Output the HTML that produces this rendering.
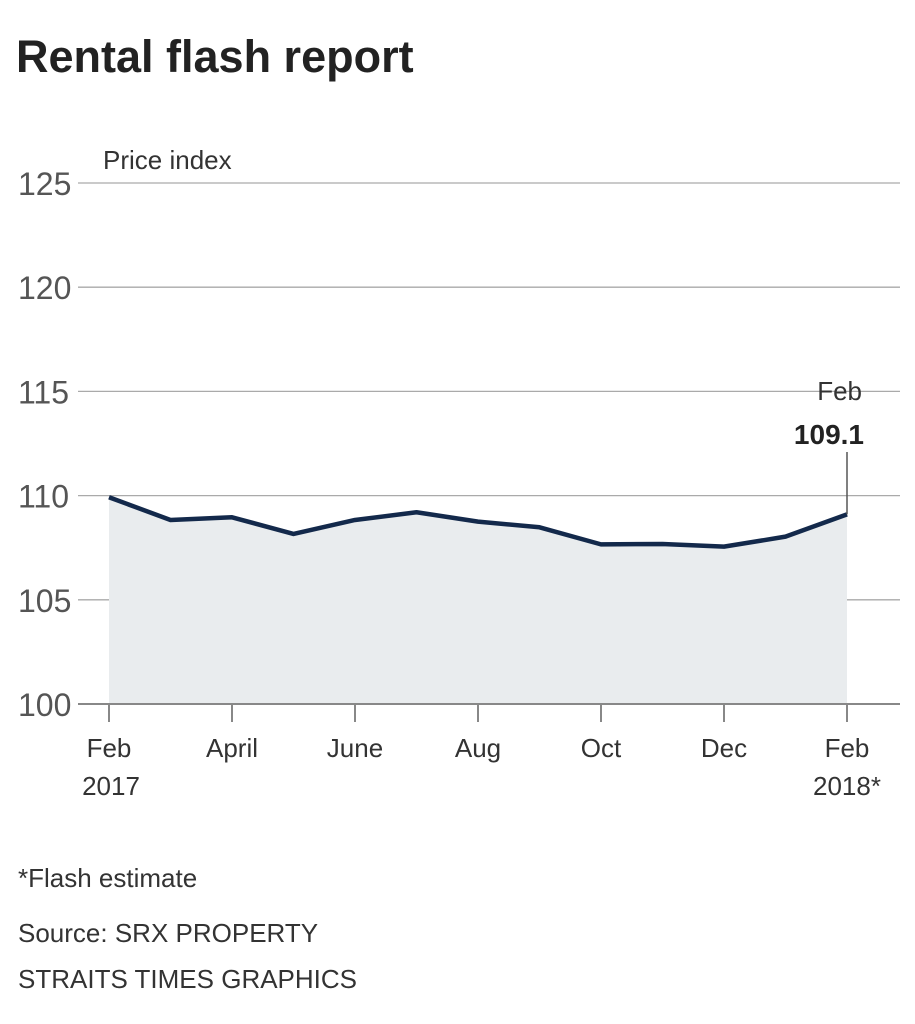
<!DOCTYPE html>
<html><head><meta charset="utf-8"><style>
body{margin:0;background:#fff;width:915px;height:1024px;overflow:hidden;font-family:"Liberation Sans",sans-serif;}
svg{display:block}
</style></head><body>
<svg width="915" height="1024">
<text x="16" y="72" font-size="45" font-weight="bold" fill="#222">Rental flash report</text>
<text x="103" y="169" font-size="26" fill="#333">Price index</text>
<g id="grid"></g><g id="plot"></g><g id="xaxis"></g>
<text x="18" y="887" font-size="26" fill="#333">*Flash estimate</text>
<text x="18" y="942" font-size="26" fill="#333">Source: SRX PROPERTY</text>
<text x="18" y="988" font-size="26" fill="#333">STRAITS TIMES GRAPHICS</text>
</svg>
<script>
const months=["Feb","Mar","Apr","May","Jun","Jul","Aug","Sep","Oct","Nov","Dec","Jan","Feb"];
const values=[109.92,108.83,108.96,108.16,108.83,109.2,108.75,108.48,107.66,107.68,107.55,108.03,109.1];
const yTicks=[100,105,110,115,120,125];
const xTickIdx=[0,2,4,6,8,10,12];
const xTickLabels=["Feb","April","June","Aug","Oct","Dec","Feb"];
const xTickSub=["2017","","","","","","2018*"];
const NS="http://www.w3.org/2000/svg";
const x=i=>109+i*61.5;
const y=v=>704-(v-100)*20.84;
function mk(tag,attrs,parent,txt){const e=document.createElementNS(NS,tag);for(const k in attrs)e.setAttribute(k,attrs[k]);if(txt!==undefined)e.textContent=txt;parent.appendChild(e);return e;}
const grid=document.getElementById('grid'),plot=document.getElementById('plot'),xa=document.getElementById('xaxis');
yTicks.forEach(t=>{
  if(t>100){const l=mk('line',{x1:78,x2:900,y1:y(t),y2:y(t),stroke:'#aaa','stroke-width':1.3},grid);
  
  }
  const tx=mk('text',{x:18,y:y(t)+12,'font-size':32,fill:'#555'},grid,String(t));
  
  
});
let d='M'+x(0)+','+y(100);
values.forEach((v,i)=>d+=' L'+x(i)+','+y(v));
d+=' L'+x(values.length-1)+','+y(100)+'Z';
const area=mk('path',{d:d,fill:'#e9ecee'},plot);


const pts=values.map((v,i)=>x(i)+','+y(v)).join(' ');
const line=mk('polyline',{points:pts,fill:'none',stroke:'#13294b','stroke-width':4.5,'stroke-linejoin':'round'},plot);


const li=values.length-1;
const lead=mk('line',{x1:x(li),x2:x(li),y1:452,y2:y(values[li]),stroke:'#555','stroke-width':1.5},plot);


const a1=mk('text',{x:x(li)+15,y:400,'font-size':26,fill:'#333','text-anchor':'end'},plot,months[li]);


const a2=mk('text',{x:x(li)+17,y:444,'font-size':28,'font-weight':'bold',fill:'#222','text-anchor':'end'},plot,values[li].toFixed(1));


const base=mk('line',{x1:78,x2:900,y1:704,y2:704,stroke:'#888','stroke-width':2},xa);


xTickIdx.forEach((m,k)=>{
  const tk=mk('line',{x1:x(m),x2:x(m),y1:704,y2:722,stroke:'#888','stroke-width':2},xa);
  
  
  const t=mk('text',{x:x(m),y:757,'font-size':26,fill:'#333','text-anchor':'middle'},xa,xTickLabels[k]);
  
  
  if(xTickSub[k]){const s=mk('text',{x:x(m)+(k===6?0:2),y:795,'font-size':26,fill:'#333','text-anchor':'middle'},xa,xTickSub[k]);
  
  }
});
</script>
</body></html>
